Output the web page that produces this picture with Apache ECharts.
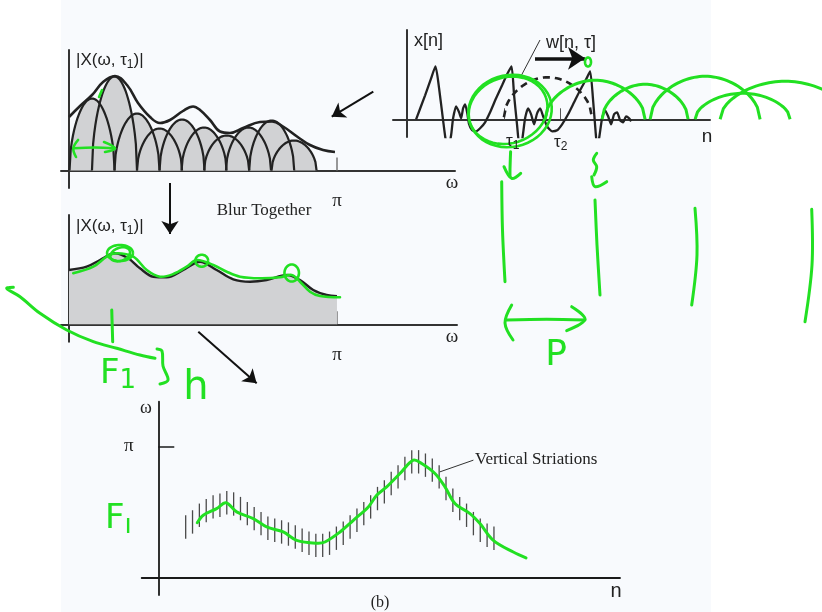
<!DOCTYPE html>
<html>
<head>
<meta charset="utf-8">
<title>Pitch harmonics and vertical striations</title>
<script src="https://cdn.jsdelivr.net/npm/echarts@6/dist/echarts.min.js"></script>
</head>
<body style="margin:0">
<div id="box" style="width:822px;height:612px;"></div>
<script>
var SANS = '"Liberation Sans", Arial, sans-serif'
var SERIF = '"Liberation Serif", "Times New Roman", serif'
var GREEN = '#22e022'
var INK = '#222'
var GRAY = '#d1d2d4'

// (a) harmonics of one short-time spectrum |X(w, tau1)|
var harmonicOmega = [0.270, 0.533, 0.797, 1.061, 1.325, 1.583, 1.848, 2.104, 2.376, 2.638]
var harmonicAmp = [7.2, 9.4, 5.7, 4.2, 5.1, 4.3, 3.5, 4.3, 5.0, 3.0]
var harmonicHalfWidth = 0.264
var envOmega = [0, 0.129, 0.270, 0.399, 0.539, 0.680, 0.809, 0.950, 1.067, 1.184, 1.336, 1.454, 1.536, 1.653, 1.770, 1.887, 2.040, 2.239, 2.380, 2.509, 2.673, 2.825, 2.978, 3.118]
var envAmp = [5.35, 6.45, 7.55, 8.85, 9.45, 8.55, 6.75, 5.35, 4.75, 5.05, 5.95, 6.4, 6.05, 5.05, 3.9, 3.75, 4.25, 4.85, 4.9, 4.4, 3.4, 2.55, 2.05, 1.85]

// blurred spectrum
var blurOmega = [0, 0.207, 0.363, 0.539, 0.695, 0.832, 0.988, 1.145, 1.34, 1.536, 1.731, 1.926, 2.122, 2.317, 2.556, 2.708, 2.864, 3.02, Math.PI]
var blurAmp = [5.43, 5.76, 6.43, 7.1, 6.6, 5.6, 4.76, 4.7, 5.43, 6.26, 5.43, 4.5, 4.26, 4.43, 4.93, 4.43, 3.43, 2.93, 2.8]

// x[n] waveform
var waveN = [4.7, 9.2, 12.2, 14.4, 16.2, 18.2, 19.7, 20.9, 22.2, 23.2, 24.7, 26.2, 27.2, 28.2, 29.2, 30.2, 31.2, 32.7, 34.7, 36.7, 39.2, 41.7, 44.7, 47.7, 50.2, 52.4, 53.7, 55.2, 56.4, 57.7, 59.2, 60.7, 62.2, 63.7, 65.2, 66.7, 68.2, 70.2, 72.7, 75.2, 77.7, 80.7, 83.7, 86.7, 89.7, 91.7, 93.2, 94.4, 95.2, 96.2, 97.7, 99.2, 100.7, 102.2, 103.7, 105.2, 106.7, 108.2, 109.7, 111.2, 112.2]
var waveX = [0, 2.4, 4.1, 5.3, 3.1, -0.1, -2.3, -2.8, -1.6, 0.1, 1.3, 0.7, 0.1, 1.1, 1.5, 0.7, -0.5, -1.1, -1.2, -0.9, -0.3, 0.7, 2.1, 3.4, 4.5, 5.3, 2.4, -0.6, -2.7, -2.1, 0.1, 1.1, 0.5, -0.5, 0.6, 1.1, 0.3, -0.7, -1.2, -1.1, -0.5, 0.5, 1.7, 2.9, 4.0, 4.8, 1.9, -1.1, -2.7, -1.9, 0.1, 0.9, 0.3, -0.5, 0.5, 0.7, -0.1, -0.3, 0.3, 0.1, -0.2]
var tauTicks = [48.8, 76.7]
var windowSpan = [48.6, 92.6]
var windowPeak = 4.0

// (b) spectrogram: vertical striations and hand-drawn track
var stripeN = [4, 5, 6, 7, 8, 9, 10, 11, 12, 13, 14, 15, 16, 17, 18, 19, 20, 21, 22, 23, 24, 25, 26, 27, 28, 29, 30, 31, 32, 33, 34, 35, 36, 37, 38, 39, 40, 41, 42, 43, 44, 45, 46, 47, 48, 49]
var stripeOmega = [1.21, 1.33, 1.49, 1.60, 1.69, 1.73, 1.79, 1.76, 1.65, 1.53, 1.41, 1.29, 1.18, 1.13, 1.09, 1.04, 0.97, 0.89, 0.82, 0.77, 0.77, 0.82, 0.94, 1.06, 1.21, 1.37, 1.53, 1.69, 1.89, 2.05, 2.25, 2.41, 2.61, 2.77, 2.77, 2.69, 2.57, 2.41, 2.13, 1.85, 1.65, 1.49, 1.29, 1.13, 1.01, 0.94]
var stripeHalf = 0.28
var trackN = [5.69, 6.57, 8.52, 9.88, 11.44, 13.87, 15.82, 18.25, 20.2, 23.12, 24.33, 26.53, 28.47, 30.66, 31.88, 33.34, 35.28, 37.23, 38.45, 40.39, 41.85, 43.31, 45.5, 46.96, 48.91, 51.82, 53.68]
var trackOmega = [1.31, 1.49, 1.65, 1.79, 1.57, 1.41, 1.21, 1.09, 0.89, 0.82, 0.85, 1.09, 1.37, 1.69, 1.97, 2.17, 2.49, 2.81, 2.73, 2.49, 2.17, 1.77, 1.53, 1.29, 0.89, 0.61, 0.47]

// green pen strokes (in each panel's own units)
var penWindowStart = [69.2, 97.7, 121.7, 144.2, 156.7]
var penWindowEnd = [119.2, 140.7, 176.7, 191.7, 221.7]
var penWindowHeight = [3.9, 3.5, 4.3, 2.6, 3.8]
var penBlurOmega = [0.05, 0.285, 0.442, 0.559, 0.754, 0.911, 1.067, 1.223, 1.38, 1.497, 1.692, 1.849, 2.005, 2.239, 2.474, 2.611, 2.708, 2.825, 2.943, 3.177]
var penBlurAmp = [5.1, 5.76, 6.76, 7.1, 6.76, 5.43, 4.76, 5.03, 5.76, 6.43, 5.93, 5.26, 4.76, 4.6, 4.7, 4.93, 4.26, 3.26, 2.83, 2.7]
var penLoopsB = [[0.598, 7.13, 0.152, 0.8, 0], [0.6, 7.0, 0.12, 0.65, 20], [1.556, 6.36, 0.075, 0.6, 0], [2.611, 5.13, 0.085, 0.85, 0]]
var penLoopsC = [[51.65, 0.83, 21, 3.6, 12], [50.7, 0.9, 20, 3.3, 18], [90.65, 5.73, 1.5, 0.45, 0]]
var penStrokesA = [
  [[0.05, 2.22], [0.3, 2.3], [0.539, 2.22]],
  [[0.106, 3.05], [0.05, 2.22], [0.082, 1.35]],
  [[0.41, 2.85], [0.539, 2.22], [0.422, 1.85]],
  [[0.352, 7.35], [0.387, 8.05]]
]
var penStrokesB = [
  [[-0.653, 3.7], [-0.73, 3.6], [-0.574, 2.76], [-0.34, 1.1], [-0.027, -0.57], [0.285, -1.74], [0.559, -2.4], [0.832, -3.07], [1.008, -3.4]],
  [[1.032, -2.47], [1.09, -2.67], [1.102, -4.17], [1.161, -5.57], [1.067, -5.97]],
  [[0.501, 1.43], [0.506, 0], [0.512, -1.74]]
]
var penStrokesC = [
  [[51.95, -3.24], [51.65, -5.0], [51.65, -5.74]],
  [[48.65, -4.74], [52.5, -5.9], [57.0, -5.4]],
  [[95.0, -3.4], [93.3, -4.07], [95.0, -4.74], [93.65, -5.57]],
  [[92.5, -5.74], [94.15, -6.74], [100.0, -6.24]],
  [[47.5, -6.24], [47.9, -11.07], [49.15, -16.24]],
  [[94.15, -8.07], [95.15, -12.57], [96.65, -17.57]],
  [[144.15, -8.9], [145.15, -13.57], [142.5, -18.57]],
  [[202.5, -9.0], [202.65, -14.57], [199.15, -20.24]],
  [[50.0, -20.07], [70.0, -20.0], [89.15, -20.07]],
  [[52.5, -18.57], [49.15, -20.37], [53.15, -22.07]],
  [[82.5, -18.74], [89.15, -20.0], [80.0, -21.14]]
]

function zip(a, b) { return a.map(function (v, i) { return [v, b[i]] }) }

// half-window shaped bump, drawn through the axis scales
function archPts(api, c, hw, h, base) {
  var p0 = api.coord([c, base])
  var s = api.size([hw, h])
  var pts = []
  for (var i = 0; i <= 40; i++) {
    var t = -1 + i / 20
    pts.push([p0[0] + t * s[0], p0[1] - s[1] * Math.sqrt(Math.max(0, Math.cos(t * Math.PI / 2)))])
  }
  return pts
}
function loopPts(api, cx, cy, rx, ry, rot) {
  var c = api.coord([cx, cy])
  var s = api.size([rx, ry])
  var r = rot * Math.PI / 180
  var pts = []
  for (var i = 0; i <= 48; i++) {
    var t = i / 48 * Math.PI * 2
    var u = s[0] * Math.cos(t), v = -s[1] * Math.sin(t)
    pts.push([c[0] + u * Math.cos(r) + v * Math.sin(r), c[1] - u * Math.sin(r) + v * Math.cos(r)])
  }
  return pts
}

function valAxis(gi, min, max, extra) {
  var ax = {
    type: 'value', gridIndex: gi, min: min, max: max,
    axisLine: { show: true, onZero: true, lineStyle: { color: '#333', width: 2 } },
    axisTick: { show: false }, axisLabel: { show: false }, splitLine: { show: false }
  }
  for (var k in extra) ax[k] = extra[k]
  return ax
}
var piTick = function (len, color) {
  return { show: true, inside: true, length: len, customValues: [Math.PI], lineStyle: { color: color, width: 1.5 } }
}
var piLabel = function (margin) {
  return { show: true, customValues: [Math.PI], formatter: function () { return 'π' }, margin: margin,
    fontFamily: SERIF, fontSize: 19, color: INK }
}

// pen stroke: one polyline through the panel's scales, not clipped to the grid
function pen(idx, pts, w) {
  return { type: 'custom', xAxisIndex: idx, yAxisIndex: idx, data: [[pts[0][0], pts[0][1]]], clip: false, silent: true, z: 10,
    renderItem: function (p, api) {
      return { type: 'polyline', shape: { points: pts.map(function (q) { return api.coord(q) }), smooth: 0.35 },
        style: { stroke: GREEN, lineWidth: w || 3, fill: 'none', lineCap: 'round', lineJoin: 'round' } }
    } }
}
function loops(idx, list) {
  return { type: 'custom', xAxisIndex: idx, yAxisIndex: idx, data: list, z: 10, clip: false, silent: true,
    renderItem: function (p, api) {
      return { type: 'polyline', shape: { points: loopPts(api, api.value(0), api.value(1), api.value(2), api.value(3), api.value(4)) },
        style: { stroke: GREEN, lineWidth: 2.6, fill: 'none' } }
    } }
}
function arrow(idx, coords, w, size) {
  return { type: 'lines', coordinateSystem: 'cartesian2d', xAxisIndex: idx, yAxisIndex: idx, clip: false, silent: true, z: 6,
    symbol: ['none', 'arrow'], symbolSize: size, lineStyle: { color: '#111', width: w, opacity: 1, curveness: 0 },
    itemStyle: { color: '#111' }, data: [{ coords: coords }] }
}
function leader(idx, coords) {
  return { type: 'lines', coordinateSystem: 'cartesian2d', xAxisIndex: idx, yAxisIndex: idx, clip: false, silent: true, z: 6,
    symbol: ['none', 'none'], lineStyle: { color: '#333', width: 1, opacity: 1 }, data: [{ coords: coords }] }
}

var harmonics = harmonicOmega.map(function (w, i) { return [w, harmonicHalfWidth, harmonicAmp[i]] })
var penWindows = penWindowStart.map(function (s, i) { return [(s + penWindowEnd[i]) / 2, (penWindowEnd[i] - s) / 2, penWindowHeight[i]] })

var series = [
  { type: 'custom', xAxisIndex: 0, yAxisIndex: 0, data: harmonics, z: 1, silent: true,
    renderItem: function (p, api) {
      return { type: 'polygon', shape: { points: archPts(api, api.value(0), api.value(1), api.value(2), 0) }, style: { fill: GRAY } }
    } },
  { type: 'custom', xAxisIndex: 0, yAxisIndex: 0, data: harmonics, z: 2, silent: true,
    renderItem: function (p, api) {
      return { type: 'polyline', shape: { points: archPts(api, api.value(0), api.value(1), api.value(2), 0) },
        style: { stroke: INK, lineWidth: 2.2, fill: 'none' } }
    } },
  { type: 'line', xAxisIndex: 0, yAxisIndex: 0, data: zip(envOmega, envAmp), smooth: 0.4, showSymbol: false, z: 3,
    lineStyle: { color: INK, width: 2.6 } },
  { type: 'line', xAxisIndex: 1, yAxisIndex: 1, data: zip(blurOmega, blurAmp), smooth: 0.35, showSymbol: false, z: 3,
    lineStyle: { color: INK, width: 2.4 }, areaStyle: { color: GRAY, opacity: 1 } },
  { type: 'line', xAxisIndex: 2, yAxisIndex: 2, data: zip(waveN, waveX), smooth: 0.2, showSymbol: false, z: 3,
    lineStyle: { color: INK, width: 2.3 } },
  { type: 'custom', xAxisIndex: 2, yAxisIndex: 2, data: [[(windowSpan[0] + windowSpan[1]) / 2, (windowSpan[1] - windowSpan[0]) / 2, windowPeak]], z: 4, silent: true,
    renderItem: function (p, api) {
      return { type: 'polyline', shape: { points: archPts(api, api.value(0), api.value(1), api.value(2), 0.2) },
        style: { stroke: INK, lineWidth: 2.6, fill: 'none', lineDash: [7, 5] } }
    } },
  { type: 'custom', xAxisIndex: 3, yAxisIndex: 3, data: zip(stripeN, stripeOmega), z: 3, silent: true,
    renderItem: function (p, api) {
      var a = api.coord([api.value(0), api.value(1) - stripeHalf])
      var b = api.coord([api.value(0), api.value(1) + stripeHalf])
      return { type: 'line', shape: { x1: a[0], y1: a[1], x2: b[0], y2: b[1] }, style: { stroke: '#4a4a4a', lineWidth: 1.3 } }
    } },
  arrow(0, [[3.567, 7.88], [3.08, 5.38]], 2, 13),
  arrow(1, [[1.184, 14.13], [1.184, 9.03]], 2, 13),
  arrow(1, [[1.516, -0.74], [2.2, -5.9]], 2, 13),
  arrow(2, [[64.15, 6.1], [89.15, 6.1]], 3.5, 17),
  leader(2, [[66.65, 7.93], [56.65, 4.13]]),
  leader(3, [[41.12, 2.53], [46.0, 2.81]]),
  pen(3, zip(trackN, trackOmega), 3),
  pen(1, zip(penBlurOmega, penBlurAmp), 2.6),
  loops(1, penLoopsB),
  loops(2, penLoopsC),
  { type: 'custom', xAxisIndex: 2, yAxisIndex: 2, data: penWindows, z: 10, clip: false, silent: true,
    renderItem: function (p, api) {
      return { type: 'polyline', shape: { points: archPts(api, api.value(0), api.value(1), api.value(2), 0) },
        style: { stroke: GREEN, lineWidth: 3, fill: 'none' } }
    } }
]
penStrokesA.forEach(function (s) { series.push(pen(0, s, 2.6)) })
penStrokesB.forEach(function (s) { series.push(pen(1, s, 3)) })
penStrokesC.forEach(function (s) { series.push(pen(2, s, 3)) })

function txt(x, y, text, font, size, align, color, rich) {
  var st = { text: text, x: x, y: y, fontFamily: font, fontSize: size, fill: color || INK,
    textAlign: align || 'center', textVerticalAlign: 'middle' }
  if (rich) st.rich = rich
  return { type: 'text', z: 20, silent: true, style: st }
}
var subRich = {
  a: { fontFamily: SANS, fontSize: 17, lineHeight: 22, fill: INK },
  b: { fontFamily: SANS, fontSize: 12, lineHeight: 12, fill: INK, verticalAlign: 'bottom' }
}
var greenRich = {
  a: { fontFamily: '"DejaVu Sans", sans-serif', fontSize: 34, lineHeight: 40, fill: GREEN },
  b: { fontFamily: '"DejaVu Sans", sans-serif', fontSize: 26, lineHeight: 26, fill: GREEN, verticalAlign: 'bottom' }
}

var option = {
  animation: false,
  backgroundColor: '#ffffff',
  grid: [
    { left: 61, top: 50, width: 394, height: 138, outerBoundsMode: 'none' },
    { left: 61, top: 215, width: 396, height: 126.7, outerBoundsMode: 'none' },
    { left: 393, top: 30, width: 317, height: 107, outerBoundsMode: 'none' },
    { left: 141.7, top: 401.7, width: 478.3, height: 193.3, outerBoundsMode: 'none' }
  ],
  xAxis: [
    valAxis(0, -0.094, 4.525, { axisTick: piTick(13, '#777'), axisLabel: piLabel(4) }),
    valAxis(1, -0.094, 4.549, { axisTick: piTick(13, '#777'), axisLabel: piLabel(4) }),
    valAxis(2, -6.85, 151.65, { axisTick: { show: true, inside: true, length: 11, customValues: tauTicks, lineStyle: { color: '#555', width: 1 } } }),
    valAxis(3, -2.42, 67.4, { axisLine: { show: true, onZero: true, lineStyle: { color: '#1a1a1a', width: 1.8 } } })
  ],
  yAxis: [
    valAxis(0, -1.75, 12.05),
    valAxis(1, -1.74, 10.93),
    valAxis(2, -1.77, 8.93),
    valAxis(3, -0.42, 4.21, { axisLine: { show: true, onZero: true, lineStyle: { color: '#1a1a1a', width: 1.8 } },
      axisTick: { show: true, inside: true, length: 16, customValues: [Math.PI], lineStyle: { color: '#1a1a1a', width: 1.5 } },
      axisLabel: { show: true, customValues: [Math.PI], formatter: function () { return 'π' }, margin: 8,
        fontFamily: SERIF, fontSize: 19, color: INK } })
  ],
  graphic: [
    { type: 'rect', z: -10, silent: true, shape: { x: 61, y: 0, width: 650, height: 612 }, style: { fill: '#f8fafd' } },
    txt(76, 60, '{a||X(ω, τ}{b|1}{a|)|}', SANS, 17, 'left', INK, subRich),
    txt(76, 226, '{a||X(ω, τ}{b|1}{a|)|}', SANS, 17, 'left', INK, subRich),
    txt(452, 183, 'ω', SERIF, 19),
    txt(452, 337, 'ω', SERIF, 19),
    txt(264, 211, 'Blur Together', SERIF, 17),
    txt(414, 41, 'x[n]', SANS, 18, 'left'),
    txt(546, 43, 'w[n, τ]', SANS, 18, 'left'),
    txt(506, 141, '{a|τ}{b|1}', SANS, 17, 'left', INK, subRich),
    txt(554, 142, '{a|τ}{b|2}', SANS, 17, 'left', INK, subRich),
    txt(707, 137, 'n', SANS, 19),
    txt(146, 408, 'ω', SERIF, 18),
    txt(616, 591, 'n', SANS, 20),
    txt(475, 460, 'Vertical Striations', SERIF, 17, 'left'),
    txt(380, 603, '(b)', SERIF, 16),
    txt(100, 374, '{a|F}{b|1}', SANS, 34, 'left', GREEN, greenRich),
    txt(196, 389, 'h', '"DejaVu Sans", sans-serif', 40, 'center', GREEN),
    txt(556, 356, 'P', '"DejaVu Sans", sans-serif', 36, 'center', GREEN),
    txt(105, 519, '{a|F}{b|ı}', SANS, 34, 'left', GREEN, greenRich)
  ],
  series: series
}

var chart = echarts.init(document.querySelector('#box'))
chart.setOption(option)
</script>
</body>
</html>
